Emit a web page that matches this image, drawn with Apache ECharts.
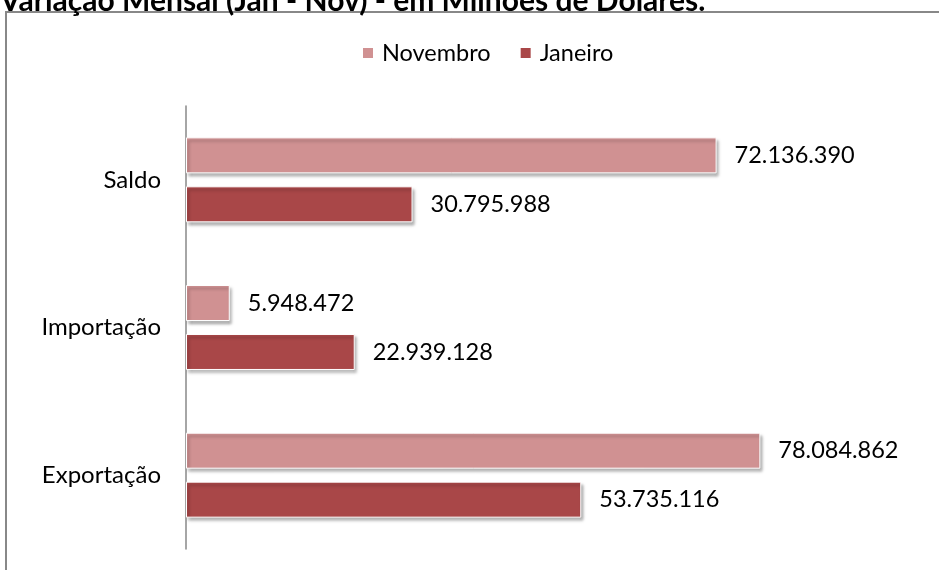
<!DOCTYPE html>
<html>
<head>
<meta charset="utf-8">
<script src="https://cdn.jsdelivr.net/npm/echarts@6/dist/echarts.min.js"></script>
<style>
  html, body { margin: 0; padding: 0; background: #fff; }
  #chart { width: 939px; height: 570px; }
</style>
</head>
<body>
<div id="chart"></div>
<script>
// categories bottom -> top, as in the original
const categories = ['Exportação', 'Importação', 'Saldo'];
const novembro = [78084862, 5948472, 72136390];
const janeiro = [53735116, 22939128, 30795988];

const font = 'Lato';

function fmt(v) {
  return String(v).replace(/\B(?=(\d{3})+(?!\d))/g, '.');
}

const barStyle = (color) => ({
  color: color,
  borderColor: '#fff',
  borderWidth: 1,
  shadowBlur: 3,
  shadowOffsetX: 2,
  shadowOffsetY: 3,
  shadowColor: 'rgba(0,0,0,0.35)'
});

const chart = echarts.init(document.getElementById('chart'));
const option = {
  animation: false,
  title: {
    text: 'Variação Mensal (Jan - Nov) - em Milhões de Dólares.',
    left: 0,
    top: -14,
    padding: 0,
    textStyle: { fontFamily: font, fontSize: 30, fontWeight: 'bold', color: '#000' }
  },
  graphic: [
    {
      type: 'rect',
      shape: { x: 6, y: 12, width: 1000, height: 600 },
      style: { fill: 'none', stroke: '#888', lineWidth: 2 },
      silent: true
    }
  ],
  legend: {
    data: ['Novembro', 'Janeiro'],
    left: 356,
    top: 36,
    icon: 'rect',
    itemWidth: 12,
    itemHeight: 12,
    itemGap: 28,
    textStyle: { fontFamily: font, fontSize: 23.5, color: '#000', padding: [0, 0, 0, 3] }
  },
  grid: { left: 186, top: 106, width: 662, bottom: 21 },
  xAxis: {
    type: 'value',
    min: 0,
    max: 90000000,
    show: false
  },
  yAxis: {
    type: 'category',
    data: categories,
    axisLine: { show: true, lineStyle: { color: '#888', width: 1.5 } },
    axisTick: { show: false },
    axisLabel: { fontFamily: font, fontSize: 24, color: '#000', margin: 25 }
  },
  series: [
    {
      name: 'Novembro',
      type: 'bar',
      data: novembro,
      barWidth: 36,
      barGap: '36%',
      itemStyle: barStyle('#d09192'),
      label: { show: true, position: 'right', distance: 18, formatter: p => fmt(p.value),
        fontFamily: font, fontSize: 23.5, color: '#000' }
    },
    {
      name: 'Janeiro',
      type: 'bar',
      data: janeiro,
      barWidth: 36,
      barGap: '36%',
      itemStyle: barStyle('#a94748'),
      label: { show: true, position: 'right', distance: 18, formatter: p => fmt(p.value),
        fontFamily: font, fontSize: 23.5, color: '#000' }
    }
  ]
};
chart.setOption(option);
</script>
</body>
</html>
